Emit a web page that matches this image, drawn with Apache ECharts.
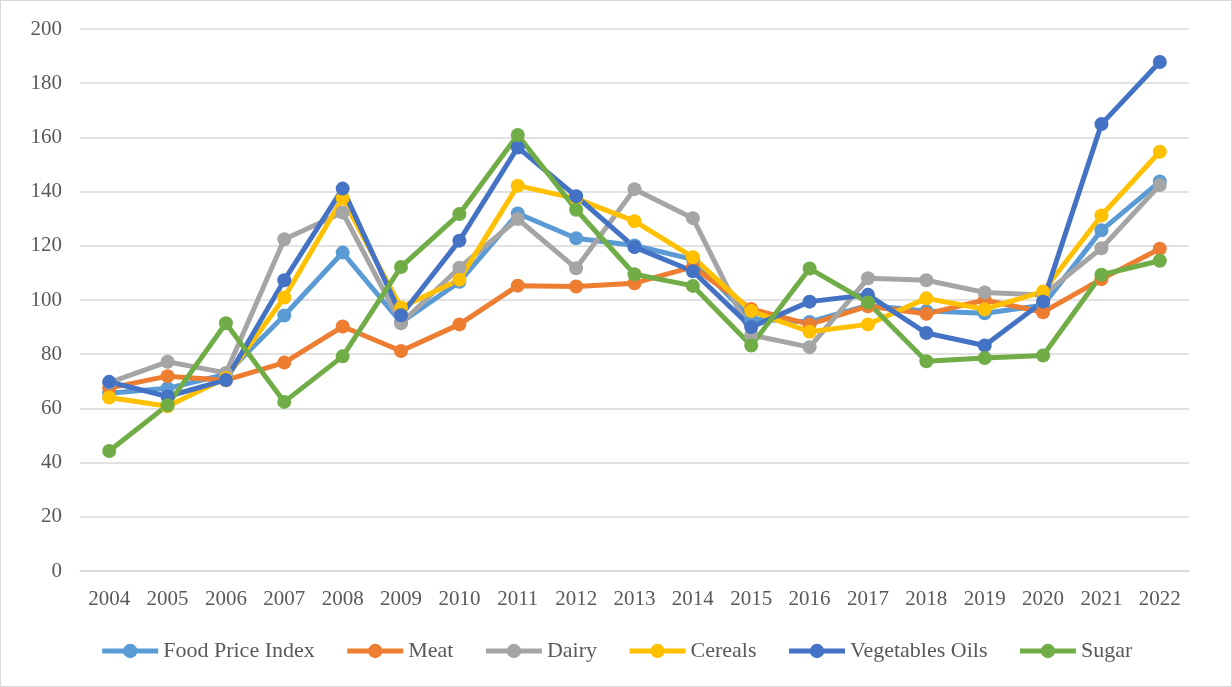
<!DOCTYPE html>
<html>
<head>
<meta charset="utf-8">
<script src="https://cdn.jsdelivr.net/npm/echarts@6/dist/echarts.min.js"></script>
<style>
    html, body { margin: 0; padding: 0; background: #fff; }
    #chart { width: 1230px; height: 685px; border: 1px solid #d9d9d9; }
</style>
</head>
<body>
<div id="chart"></div>
<script>
// years on the x axis
var years = ['2004', '2005', '2006', '2007', '2008', '2009', '2010', '2011', '2012', '2013',
    '2014', '2015', '2016', '2017', '2018', '2019', '2020', '2021', '2022'];

// index values
var foodPriceIndex = [65.6, 67.4, 72.6, 94.3, 117.5, 91.7, 106.7, 131.9, 122.8, 120.1, 115.0, 93.0, 91.9, 98.0, 95.9, 95.1, 98.1, 125.7, 143.7];
var meat = [67.5, 71.9, 70.4, 76.9, 90.2, 81.2, 91.0, 105.3, 105.0, 106.2, 112.2, 96.7, 91.0, 97.7, 94.9, 100.0, 95.5, 107.7, 118.9];
var dairy = [69.5, 77.2, 73.1, 122.4, 132.3, 91.4, 111.9, 129.9, 111.7, 140.9, 130.2, 87.1, 82.6, 108.0, 107.3, 102.8, 101.8, 119.1, 142.4];
var cereals = [64.0, 60.8, 71.2, 100.9, 137.6, 97.2, 107.5, 142.2, 137.4, 129.1, 115.8, 95.9, 88.3, 91.0, 100.6, 96.6, 103.1, 131.2, 154.7];
var vegetablesOils = [69.8, 64.4, 70.5, 107.3, 141.1, 94.4, 121.9, 156.3, 138.3, 119.5, 110.6, 90.0, 99.4, 101.9, 87.8, 83.2, 99.4, 164.9, 187.8];
var sugar = [44.3, 61.2, 91.4, 62.4, 79.2, 112.2, 131.7, 160.9, 133.3, 109.5, 105.2, 83.2, 111.6, 99.1, 77.4, 78.6, 79.5, 109.3, 114.5];

var seriesNames = ['Food Price Index', 'Meat', 'Dairy', 'Cereals', 'Vegetables Oils', 'Sugar'];
var seriesData = [foodPriceIndex, meat, dairy, cereals, vegetablesOils, sugar];
var seriesColors = ['#5B9BD5', '#ED7D31', '#A5A5A5', '#FFC000', '#4472C4', '#70AD47'];

var fontFamily = '"Liberation Serif", "DejaVu Serif", serif';

var series = [];
for (var i = 0; i < seriesNames.length; i++) {
    series.push({
        name: seriesNames[i],
        type: 'line',
        data: seriesData[i],
        symbol: 'circle',
        symbolSize: 14,
        lineStyle: { width: 5, color: seriesColors[i] },
        itemStyle: { color: seriesColors[i] },
        animation: false
    });
}

var chart = echarts.init(document.getElementById('chart'));
chart.setOption({
    backgroundColor: '#fff',
    color: seriesColors,
    grid: { left: 79, right: 42, top: 28, bottom: 115 },
    xAxis: {
        type: 'category',
        data: years,
        boundaryGap: true,
        axisLine: { lineStyle: { color: '#d9d9d9', width: 1.5 } },
        axisTick: { show: false },
        axisLabel: { color: '#595959', fontSize: 21, fontFamily: fontFamily, margin: 18 }
    },
    yAxis: {
        type: 'value',
        min: 0,
        max: 200,
        interval: 20,
        axisLine: { show: false },
        axisTick: { show: false },
        splitLine: { lineStyle: { color: '#d9d9d9', width: 1.5 } },
        axisLabel: { color: '#595959', fontSize: 21, fontFamily: fontFamily, margin: 18 }
    },
    legend: {
        data: seriesNames,
        top: 634,
        left: 'center',
        itemWidth: 56,
        itemHeight: 18,
        itemGap: 30,
        lineStyle: { width: 5 },
        textStyle: { color: '#595959', fontSize: 22, fontFamily: fontFamily }
    },
    series: series
});
</script>
</body>
</html>
